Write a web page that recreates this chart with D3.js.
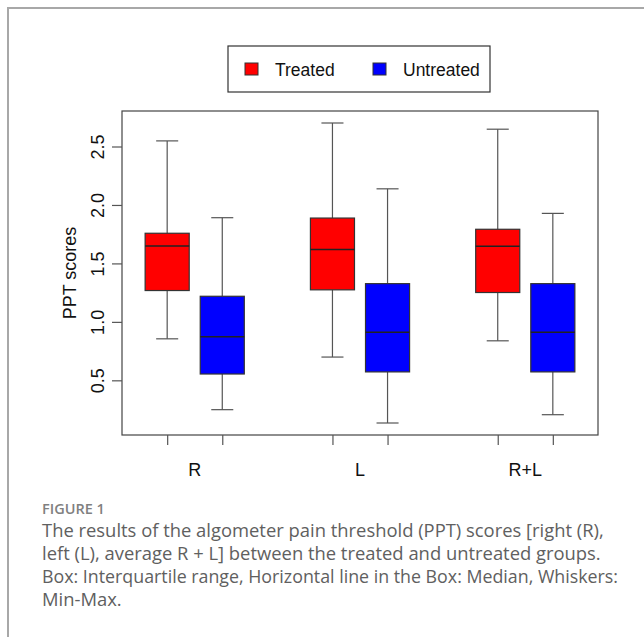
<!DOCTYPE html>
<html>
<head>
<meta charset="utf-8">
<script src="https://cdn.jsdelivr.net/npm/d3@7"></script>
<style>
  body { margin: 0; background: #fff; }
  svg { display: block; }
</style>
</head>
<body>
<div id="chart"></div>
<script>
// data
const groups = ["R", "L", "R+L"];
const seriesNames = ["Treated", "Untreated"];
const seriesColors = ["#ff0000", "#0000ff"];
// [min, q1, median, q3, max] for each group
const treated = [
  [0.855, 1.268, 1.649, 1.758, 2.548],
  [0.699, 1.274, 1.618, 1.888, 2.701],
  [0.838, 1.251, 1.647, 1.792, 2.648]
];
const untreated = [
  [0.249, 0.554, 0.872, 1.219, 1.891],
  [0.135, 0.572, 0.912, 1.327, 2.138],
  [0.206, 0.572, 0.912, 1.327, 1.928]
];
const yTicks = [0.5, 1.0, 1.5, 2.0, 2.5];
const yTitle = "PPT scores";
const figLabel = "FIGURE 1";
const captionLines = [
  "The results of the algometer pain threshold (PPT) scores [right (R),",
  "left (L), average R + L] between the treated and untreated groups.",
  "Box: Interquartile range, Horizontal line in the Box: Median, Whiskers:",
  "Min-Max."
];

const W = 644, H = 637;
const plot = {left: 122, right: 598, top: 111, bottom: 435};
const font = "'Liberation Sans', Arial, sans-serif";
const fs = 18;

const svg = d3.select("#chart").append("svg")
    .attr("width", W)
    .attr("height", H);

// outer frame of the figure panel
svg.append("rect")
    .attr("x", 8).attr("y", 8)
    .attr("width", W).attr("height", H)
    .attr("fill", "none")
    .attr("stroke", "#a8a8a8")
    .attr("stroke-width", 2);

// one box per group and series, placed at 1,2  4,5  7,8 like R's at=
const boxes = [];
groups.forEach((g, gi) => {
    [treated, untreated].forEach((s, si) => {
        const [min, q1, med, q3, max] = s[gi];
        boxes.push({group: g, series: si, pos: gi * 3 + si + 1, min, q1, med, q3, max});
    });
});

const xExt = (8.5 - 0.5) * 0.04;
const x = d3.scaleLinear()
    .domain([0.5 - xExt, 8.5 + xExt])
    .range([plot.left, plot.right]);

const yMin = d3.min(boxes, d => d.min), yMax = d3.max(boxes, d => d.max);
const yExt = (yMax - yMin) * 0.04;
const y = d3.scaleLinear()
    .domain([yMin - yExt, yMax + yExt])
    .range([plot.bottom, plot.top]);

const unit = x(1) - x(0);
const halfBox = unit * 0.8 / 2;
const halfStaple = halfBox / 2;

const bx = svg.append("g").selectAll("g")
    .data(boxes)
    .join("g");

// whiskers
bx.append("line")
    .attr("x1", d => x(d.pos)).attr("x2", d => x(d.pos))
    .attr("y1", d => y(d.max)).attr("y2", d => y(d.q3))
    .attr("stroke", "#555").attr("stroke-width", 1.2);
bx.append("line")
    .attr("x1", d => x(d.pos)).attr("x2", d => x(d.pos))
    .attr("y1", d => y(d.q1)).attr("y2", d => y(d.min))
    .attr("stroke", "#555").attr("stroke-width", 1.2);
// staples
bx.selectAll(".staple")
    .data(d => [d.min, d.max].map(v => ({pos: d.pos, v})))
    .join("line")
    .attr("class", "staple")
    .attr("x1", d => x(d.pos) - halfStaple).attr("x2", d => x(d.pos) + halfStaple)
    .attr("y1", d => y(d.v)).attr("y2", d => y(d.v))
    .attr("stroke", "#555").attr("stroke-width", 1.2);
// boxes
bx.append("rect")
    .attr("x", d => x(d.pos) - halfBox)
    .attr("width", halfBox * 2)
    .attr("y", d => y(d.q3))
    .attr("height", d => y(d.q1) - y(d.q3))
    .attr("fill", d => seriesColors[d.series])
    .attr("stroke", "#333").attr("stroke-width", 1.2);
// medians
bx.append("line")
    .attr("x1", d => x(d.pos) - halfBox).attr("x2", d => x(d.pos) + halfBox)
    .attr("y1", d => y(d.med)).attr("y2", d => y(d.med))
    .attr("stroke", "#222").attr("stroke-width", 1.5);

// plot frame
svg.append("rect")
    .attr("x", plot.left).attr("y", plot.top)
    .attr("width", plot.right - plot.left)
    .attr("height", plot.bottom - plot.top)
    .attr("fill", "none")
    .attr("stroke", "#444").attr("stroke-width", 1.2);

// y axis
const yAxis = svg.append("g")
    .attr("transform", `translate(${plot.left},0)`)
    .call(d3.axisLeft(y).tickValues(yTicks).tickFormat(d3.format(".1f")).tickSize(10).tickSizeOuter(0));
yAxis.select(".domain").remove();
yAxis.selectAll(".tick line").attr("stroke", "#555").attr("stroke-width", 1.2);
yAxis.selectAll(".tick text")
    .attr("x", 0).attr("y", 0).attr("dy", 0)
    .attr("text-anchor", "middle")
    .attr("transform", "translate(-18,0) rotate(-90)")
    .attr("font-size", fs)
    .attr("font-family", font)
    .attr("fill", "#111");

// x axis ticks
const xAxis = svg.append("g")
    .attr("transform", `translate(0,${plot.bottom})`)
    .call(d3.axisBottom(x).tickValues(boxes.map(d => d.pos)).tickFormat(() => "").tickSize(10).tickSizeOuter(0));
xAxis.select(".domain").remove();
xAxis.selectAll(".tick line").attr("stroke", "#555").attr("stroke-width", 1.2);

// group labels
svg.append("g").selectAll("text")
    .data(groups)
    .join("text")
    .attr("x", (d, i) => x(i * 3 + 1.5))
    .attr("y", 476)
    .attr("text-anchor", "middle")
    .attr("font-size", fs)
    .attr("font-family", font)
    .attr("fill", "#111")
    .text(d => d);

// y title
svg.append("text")
    .attr("transform", `translate(76,${(plot.top + plot.bottom) / 2}) rotate(-90)`)
    .attr("text-anchor", "middle")
    .attr("font-size", fs)
    .attr("font-family", font)
    .attr("fill", "#111")
    .text(yTitle);

// legend
const legend = svg.append("g").attr("transform", "translate(228,46)");
legend.append("rect")
    .attr("width", 262).attr("height", 46)
    .attr("fill", "#fff")
    .attr("stroke", "#333").attr("stroke-width", 1.2);
const item = legend.selectAll(".item")
    .data(seriesNames)
    .join("g")
    .attr("class", "item")
    .attr("transform", (d, i) => `translate(${17 + i * 128},0)`);
item.append("rect")
    .attr("x", 0).attr("y", 17)
    .attr("width", 13).attr("height", 12)
    .attr("fill", (d, i) => seriesColors[i])
    .attr("stroke", "#333").attr("stroke-width", 1);
item.append("text")
    .attr("x", 30).attr("y", 30)
    .attr("font-size", 17.5)
    .attr("font-family", font)
    .attr("fill", "#111")
    .text(d => d);

// caption
svg.append("text")
    .attr("x", 42).attr("y", 514)
    .attr("font-family", "'Open Sans', sans-serif")
    .attr("font-weight", 600)
    .attr("font-size", 14.5)
    .attr("fill", "#808080")
    .text(figLabel);
const capMax = 576;
svg.append("g").selectAll("text")
    .data(captionLines)
    .join("text")
    .attr("x", 42)
    .attr("y", (d, i) => 537 + i * 23)
    .attr("font-family", "'Open Sans', sans-serif")
    .attr("font-size", 18.4)
    .attr("fill", "#606060")
    .text(d => d)
    .each(function () {
        // squeeze lines that run wider than the caption column
        if (this.getComputedTextLength() > capMax) {
            d3.select(this).attr("textLength", capMax).attr("lengthAdjust", "spacingAndGlyphs");
        }
    });
</script>
</body>
</html>
